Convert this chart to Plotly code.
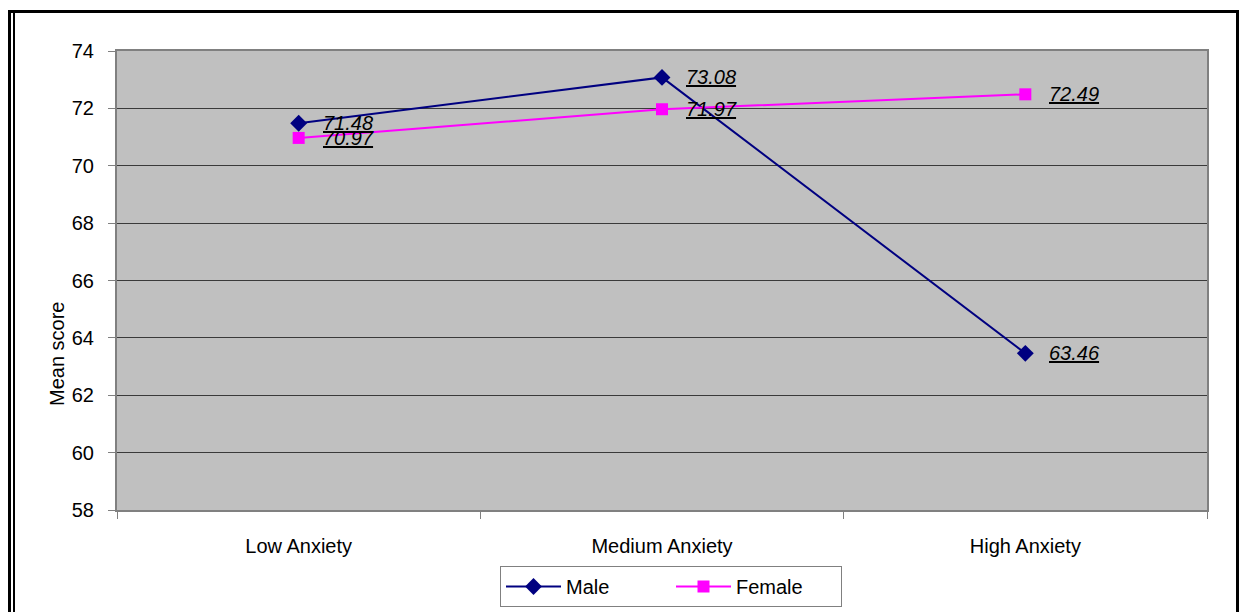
import plotly.graph_objects as go

categories = ["Low Anxiety", "Medium Anxiety", "High Anxiety"]
male = [71.48, 73.08, 63.46]
female = [70.97, 71.97, 72.49]
y_ticks = [58, 60, 62, 64, 66, 68, 70, 72, 74]
y_title = "Mean score"

FONT = "Arial, Liberation Sans, sans-serif"

fig = go.Figure()
fig.add_trace(go.Scatter(
    x=categories, y=male, name="Male", mode="lines+markers",
    line=dict(color="#000080", width=2),
    marker=dict(symbol="diamond", size=13, color="#000080"),
))
fig.add_trace(go.Scatter(
    x=categories, y=female, name="Female", mode="lines+markers",
    line=dict(color="#FF00FF", width=2),
    marker=dict(symbol="square", size=12, color="#FF00FF"),
))

for series in (male, female):
    for c, v in zip(categories, series):
        fig.add_annotation(
            x=c, y=v, xref="x", yref="y", text=f"<i><u>{v:.2f}</u></i>",
            showarrow=False, xanchor="left", yanchor="middle", xshift=22,
            font=dict(family=FONT, size=20, color="#000000"),
        )

# outer chart frame (cut off at the bottom)
L, R, T, B = 117, 1207, 51, 510
W, H = R - L, B - T
def px(x):
    return (x - L) / W
def py(y):
    return (B - y) / H

# y-axis title (placed lower than centre, as in the reference)
fig.add_annotation(
    x=px(57), y=py(354), xref="paper", yref="paper", text=y_title,
    textangle=-90, showarrow=False, xanchor="center", yanchor="middle",
    font=dict(family=FONT, size=20, color="#000000"),
)

frame = dict(color="#000000", width=3)
fig.add_shape(type="line", xref="paper", yref="paper", x0=px(9.5), x1=px(9.5), y0=py(11), y1=py(640), line=frame)
fig.add_shape(type="line", xref="paper", yref="paper", x0=px(14), x1=px(14), y0=py(13), y1=py(640), line=dict(color="#000000", width=2))
fig.add_shape(type="line", xref="paper", yref="paper", x0=px(8), x1=px(1239), y0=py(11.5), y1=py(11.5), line=frame)
fig.add_shape(type="line", xref="paper", yref="paper", x0=px(1237.5), x1=px(1237.5), y0=py(10), y1=py(640), line=frame)

fig.update_layout(
    width=1239, height=612,
    margin=dict(l=L, r=1239 - R, t=T, b=612 - B, autoexpand=False),
    paper_bgcolor="#FFFFFF",
    plot_bgcolor="#C0C0C0",
    font=dict(family=FONT, size=20, color="#000000"),
    showlegend=True,
    legend=dict(
        orientation="h", x=671 / 1239, y=1 - 566 / 612, xref="container", yref="container",
        xanchor="center", yanchor="top",
        bordercolor="#808080", borderwidth=1, bgcolor="#FFFFFF",
        font=dict(family=FONT, size=20, color="#000000"),
        itemwidth=55, entrywidth=100, tracegroupgap=0,
    ),
    xaxis=dict(
        type="category", tickson="boundaries", showgrid=False,
        ticks="outside", ticklen=7, tickcolor="#808080",
        showline=True, linecolor="#808080", linewidth=2, mirror=True,
        tickfont=dict(family=FONT, size=20), ticklabelstandoff=17,
        range=[-0.5, 2.5],
    ),
    yaxis=dict(
        range=[58, 74], tickvals=y_ticks,
        showgrid=True, gridcolor="#3a3a3a", gridwidth=1,
        ticks="outside", ticklen=7, tickcolor="#808080",
        showline=True, linecolor="#808080", linewidth=2, mirror=True,
        tickfont=dict(family=FONT, size=20), ticklabelstandoff=10,
        zeroline=False,
    ),
)

fig.write_html(
    "out.html",
    config={"displayModeBar": False},
    post_script="document.body.style.margin='0';document.body.style.overflow='hidden';",
)
